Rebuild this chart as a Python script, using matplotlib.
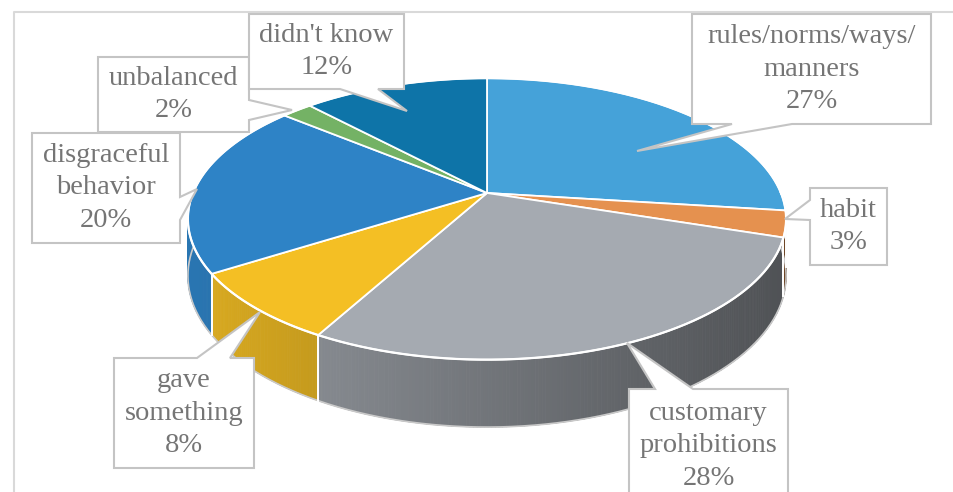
import numpy as np
import matplotlib.pyplot as plt
from matplotlib.patches import Polygon
from matplotlib.collections import PolyCollection

# slice data, clockwise from 12 o'clock
labels = ["rules/norms/ways/\nmanners", "habit", "customary\nprohibitions",
          "gave\nsomething", "disgraceful\nbehavior", "unbalanced", "didn't know"]
shares = [27, 3, 28, 8, 20, 2, 12]
colors = ["#45A2D9", "#E5914F", "#A5AAB1", "#F4BF24", "#2E83C6", "#74B265", "#0E74A8"]

# callout boxes: (x0, x1, y0, y1), side with the tail, tail base, tail tip
boxes = [
    ((692, 931, 14, 124), "bottom", (732, 792), (637, 151)),
    ((810, 887, 188, 265), "left", (200, 220), (785, 219)),
    ((629, 788, 389, 505), "top", (655, 693), (627, 343)),
    ((114, 254, 358, 468), "top", (197, 230), (260, 312)),
    ((32, 180, 133, 243), "right", (197, 220), (197, 189)),
    ((98, 249, 57, 132), "right", (100, 120), (292, 110)),
    ((249, 404, 14, 89), "bottom", (340, 378), (407, 111)),
]

# pie projection (pixel space)
cx, cy = 487, 193
sx, sy = 294, 136
k = 0.184
depth = 55


def proj(phi, z=0.0):
    u, v = np.cos(phi), np.sin(phi)
    w = 1 + k * v
    return cx + sx * u / w, cy + (-sy * v + depth * z) / w


def shade(x):
    t = np.clip((x - 187) / 598.0, 0, 1)
    return 0.9 - 0.42 * t


fig = plt.figure(figsize=(9.54, 4.92), dpi=100)
ax = fig.add_axes([0, 0, 1, 1])
ax.set_xlim(0, 954)
ax.set_ylim(492, 0)
ax.axis("off")

# chart area frame
ax.plot([14, 14, 960], [500, 12, 12], color="#D9D9D9", lw=1.5, zorder=0)

total = float(sum(shares))
starts = []
a = np.pi / 2
for s in shares:
    starts.append((a, a - 2 * np.pi * s / total))
    a -= 2 * np.pi * s / total

# side walls (front half only)
for (a0, a1), col in zip(starts, colors):
    base = np.array(plt.matplotlib.colors.to_rgb(col))
    lo, hi = a1, a0
    quads, fcs = [], []
    for off in (0, -2 * np.pi):
        l, h = max(lo + off, -np.pi), min(hi + off, 0)
        if h <= l:
            continue
        ph = np.linspace(l, h, max(int((h - l) / 0.01), 2))
        for p0, p1 in zip(ph[:-1], ph[1:]):
            x0, y0 = proj(p0)
            x1, y1 = proj(p1)
            x2, y2 = proj(p1, 1)
            x3, y3 = proj(p0, 1)
            quads.append([(x0, y0), (x1, y1), (x2, y2), (x3, y3)])
            fcs.append(np.clip(base * shade((x0 + x1) / 2), 0, 1))
        # white seam where slices meet on the wall
        for p in (l, h):
            if -np.pi < p < 0:
                xa, ya = proj(p)
                xb, yb = proj(p, 1)
                ax.plot([xa, xb], [ya, yb], color="white", lw=1.3, zorder=1.5)
    if quads:
        ax.add_collection(PolyCollection(quads, facecolors=fcs, edgecolors=fcs,
                                         linewidths=0.6, zorder=1))

# bottom rim outline
ph = np.linspace(-np.pi, 0, 300)
bx, by = proj(ph, 1)
ax.plot(bx, by, color="#C9C9C9", lw=1.2, zorder=1.2)

# top faces
for (a0, a1), col in zip(starts, colors):
    ph = np.linspace(a0, a1, 200)
    px, py = proj(ph)
    pts = [(cx, cy)] + list(zip(px, py))
    ax.add_patch(Polygon(pts, closed=True, facecolor=col, edgecolor="white",
                         lw=1.3, joinstyle="round", zorder=2))

ph = np.linspace(0, 2 * np.pi, 400)
tx, ty = proj(ph)
ax.plot(tx, ty, color="white", lw=1.6, zorder=2.5)


def callout(box, side, base, tip):
    x0, x1, y0, y1 = box
    b0, b1 = base
    if side == "bottom":
        pts = [(x0, y0), (x1, y0), (x1, y1), (b1, y1), tip, (b0, y1), (x0, y1)]
    elif side == "top":
        pts = [(x0, y0), (b0, y0), tip, (b1, y0), (x1, y0), (x1, y1), (x0, y1)]
    elif side == "left":
        pts = [(x0, y0), (x1, y0), (x1, y1), (x0, y1), (x0, b1), tip, (x0, b0)]
    else:
        pts = [(x0, y0), (x1, y0), (x1, b0), tip, (x1, b1), (x1, y1), (x0, y1)]
    return Polygon(pts, closed=True, facecolor="white", edgecolor="#C4C4C4",
                   lw=1.5, zorder=5)


for lab, s, (box, side, base, tip) in zip(labels, shares, boxes):
    ax.add_patch(callout(box, side, base, tip))
    x0, x1, y0, y1 = box
    yc = (y0 + y1) / 2 if y1 <= 492 else y0 + 57
    ax.text((x0 + x1) / 2, yc, f"{lab}\n{s}%", ha="center", va="center",
            multialignment="center", family="Liberation Serif", fontsize=20.5,
            color="#757575", linespacing=1.4, zorder=6)

fig.savefig("out.png", dpi=100)
